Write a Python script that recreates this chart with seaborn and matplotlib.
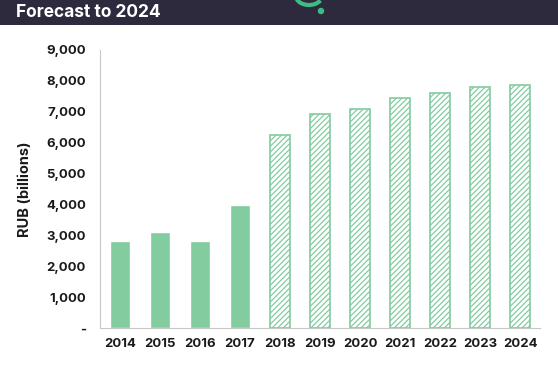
import matplotlib
matplotlib.use('Agg')
import matplotlib.pyplot as plt
import matplotlib.patches as mpatches
from matplotlib.ticker import FuncFormatter
import seaborn as sns
import pandas as pd

years = ['2014', '2015', '2016', '2017', '2018', '2019', '2020', '2021', '2022', '2023', '2024']
values = [2820, 3110, 2820, 3990, 6250, 6930, 7090, 7430, 7600, 7790, 7870]
forecast = [False, False, False, False, True, True, True, True, True, True, True]

green = '#82cc9f'
header = '#2d2a3e'

sns.set_style('white')
plt.rcParams['font.family'] = ['Inter', 'DejaVu Sans']
plt.rcParams['hatch.linewidth'] = 0.9
plt.rcParams['hatch.color'] = green

df = pd.DataFrame({'year': years, 'value': values})

fig = plt.figure(figsize=(5.58, 3.75), dpi=100)
ax = fig.add_axes([0.179, 0.125, 0.789, 0.742])

sns.barplot(data=df, x='year', y='value', color=green, width=0.5, ax=ax, saturation=1)

for patch, fc in zip(ax.patches, forecast):
    if fc:
        patch.set_facecolor('white')
        patch.set_edgecolor(green)
        patch.set_hatch('//////')
        patch.set_linewidth(1.2)

ax.set_ylim(0, 9000)
ax.set_xlim(-0.5, len(years) - 0.5)
ax.set_yticks(range(0, 9001, 1000))
ax.yaxis.set_major_formatter(FuncFormatter(lambda v, p: '-' if v == 0 else f'{int(v):,}'))
ax.set_xticks([i - 0.5 for i in range(len(years) + 1)], minor=False)
ax.set_xticklabels([''] * (len(years) + 1))
ax.set_xticks(range(len(years)), minor=True)
ax.set_xticklabels(years, minor=True)
ax.tick_params(axis='x', which='minor', length=0, pad=7, labelsize=9.5)
ax.tick_params(axis='x', which='major', length=4, color='#c8c8c8', width=0.8)
ax.tick_params(axis='y', length=4, color='#c8c8c8', width=0.8, labelsize=9.5, pad=6)
for lab in ax.get_xticklabels(minor=True) + ax.get_yticklabels():
    lab.set_fontweight('bold')
    lab.set_color('#1a1a1a')

ax.set_xlabel('')
ax.set_ylabel('RUB (billions)', fontsize=10.5, fontweight='bold', color='#1a1a1a', labelpad=10)

for s in ['top', 'right']:
    ax.spines[s].set_visible(False)
for s in ['left', 'bottom']:
    ax.spines[s].set_color('#c8c8c8')
    ax.spines[s].set_linewidth(0.8)

# header band with title and cropped logo
fig.patches.append(mpatches.Rectangle((0, 1 - 25 / 375), 1, 25 / 375, transform=fig.transFigure,
                                      facecolor=header, edgecolor='none', zorder=0))
fig.text(16 / 558, 1 - 17 / 375, 'Forecast to 2024', color='white', fontsize=12.5,
         fontweight='bold', va='baseline', ha='left')
fig.patches.append(mpatches.Arc((309 / 558, 1 + 4 / 375), 26 / 558, 18 / 375, theta1=200, theta2=330,
                                transform=fig.transFigure, color='#3dbb85', linewidth=3, zorder=1))
fig.patches.append(mpatches.Ellipse((321 / 558, 1 - 11 / 375), 5 / 558, 5 / 375,
                                    transform=fig.transFigure, color='#3dbb85', zorder=1))

fig.savefig('out.png', dpi=100)
